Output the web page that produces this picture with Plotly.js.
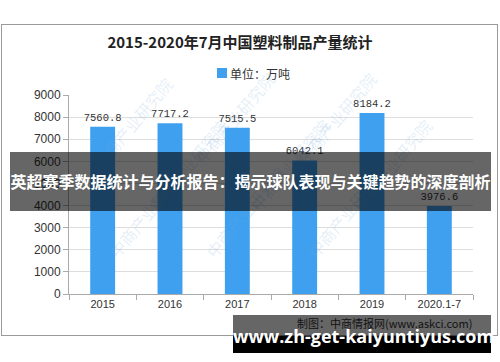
<!DOCTYPE html>
<html>
<head>
<meta charset="utf-8">
<script src="https://cdn.plot.ly/plotly-3.0.1.min.js"></script>
<style>
  html, body { margin:0; padding:0; background:#fff; }
  #wrap { position:relative; width:500px; height:362px; overflow:hidden; }
  #chart { position:absolute; left:0; top:0; width:500px; height:362px; }
  .ov { position:absolute; pointer-events:none; }
</style>
</head>
<body>
<div id="wrap">
  <div id="chart"></div>
  <div class="ov" style="left:1px;top:24px;width:497px;height:312px;border:1px solid #9a9a9a;box-sizing:border-box;"></div>
  <div class="ov" style="left:10px;top:152px;width:481px;height:59px;background:rgba(0,0,0,0.6);"></div>
  <div class="ov" id="banner" style="left:10px;top:152px;width:481px;height:59px;line-height:59px;text-align:center;color:#fff;font-family:'Noto Sans CJK SC';font-weight:bold;font-size:16px;white-space:nowrap;"></div>
  <div class="ov" style="left:233px;top:315px;width:258px;height:21px;background:rgba(0,0,0,0.6);"></div>
  <div class="ov" style="left:233px;top:336px;width:258px;height:17px;background:#000;"></div>
  <div class="ov" id="url" style="left:233px;top:315px;width:258px;height:38px;line-height:42px;text-align:center;color:#fff;font-family:'Open Sans';font-weight:bold;font-size:18px;white-space:nowrap;"></div>
</div>
<script>
// Data
var categories = ['2015', '2016', '2017', '2018', '2019', '2020.1-7'];
var production = [7560.8, 7717.2, 7515.5, 6042.1, 8184.2, 3976.6];
var yTicks = [0, 1000, 2000, 3000, 4000, 5000, 6000, 7000, 8000, 9000];

var chartTitle = '2015-2020年7月中国塑料制品产量统计';
var seriesName = '单位：万吨';
var sourceText = '制图：中商情报网(www.askci.com)';
var bannerText = '英超赛季数据统计与分析报告：揭示球队表现与关键趋势的深度剖析';
var urlText = 'www.zh-get-kaiyuntiyus.com';
var watermarkText = '中商产业研究院';
var barColor = '#3fa0f0';

document.getElementById('banner').textContent = bannerText;
document.getElementById('url').textContent = urlText;

var W = 500, H = 362;
var L = 69, R = 27, T = 95, B = 68;
function px(x) { return (x - L) / (W - L - R); }
function py(y) { return (H - B - y) / (H - T - B); }

var wmPos = [[85,70],[235,65],[385,65],[140,165],[290,165],[440,165],[100,265],[245,265],[395,265]];
var annotations = wmPos.map(function(p) {
  return {
    text: watermarkText, xref:'paper', yref:'paper', x: px(p[0]), y: py(p[1]),
    showarrow:false, textangle:-50,
    font:{family:'Noto Sans CJK SC', size:16, color:'rgba(120,170,220,0.2)'}
  };
});
annotations.push({
  text: sourceText, xref:'paper', yref:'paper', x: px(384), y: py(323),
  xanchor:'center', yanchor:'middle', showarrow:false,
  font:{family:'Noto Sans CJK SC', size:11, color:'#333'}
});
// legend label (drawn next to its swatch)
annotations.push({
  text: seriesName, xref:'paper', yref:'paper', x: px(228), y: py(73),
  xanchor:'left', yanchor:'middle', showarrow:false,
  font:{family:'Noto Sans CJK SC', size:12, color:'#333'}
});

var shapes = [{
  type:'rect', xref:'paper', yref:'paper',
  x0: px(217), x1: px(227), y0: py(78), y1: py(68),
  fillcolor: barColor, line:{width:0}
}];

var trace = {
  type:'bar', x: categories, y: production, name: seriesName,
  marker:{color: barColor}, width:0.37,
  text: production.map(function(v){ return v.toFixed(1); }),
  textposition:'outside', cliponaxis:false, constraintext:'none',
  textfont:{family:'Liberation Mono', size:10.5, color:'#333'},
  showlegend:false
};

var layout = {
  width:W, height:H, autosize:false,
  margin:{l:L, r:R, t:T, b:B},
  paper_bgcolor:'#fff', plot_bgcolor:'#fff',
  title:{text: chartTitle, x:0.48, xref:'container', xanchor:'center',
         y:1 - 43/H, yref:'container', yanchor:'middle',
         font:{family:'Noto Sans CJK SC', size:15, color:'#222', weight:'bold'}},
  showlegend:false,
  xaxis:{type:'category', showline:true, linecolor:'#aaa', linewidth:1,
         ticks:'outside', tickson:'boundaries', ticklen:5, tickcolor:'#aaa',
         tickfont:{family:'Liberation Sans', size:11, color:'#333'},
         showgrid:false, fixedrange:true},
  yaxis:{range:[0,9000], tickvals:yTicks, showline:true, linecolor:'#aaa', linewidth:1,
         ticks:'outside', ticklen:5, tickcolor:'#aaa',
         tickfont:{family:'Liberation Sans', size:12, color:'#333'},
         gridcolor:'#ddd', zeroline:false, fixedrange:true},
  bargap:0.63,
  annotations: annotations,
  shapes: shapes
};

Plotly.newPlot('chart', [trace], layout, {displayModeBar:false, staticPlot:true});
</script>
</body>
</html>
